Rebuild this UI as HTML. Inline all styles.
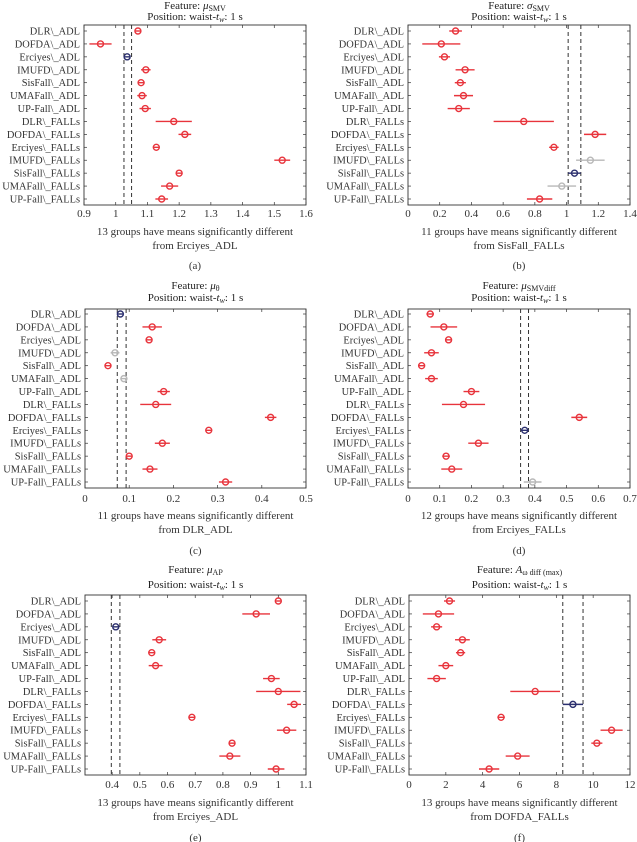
<!DOCTYPE html>
<html><head><meta charset="utf-8"><style>
html,body{margin:0;padding:0;background:#fff;}
svg{display:block;font-family:"Liberation Serif",serif;}
</style></head><body>
<svg id="fig" width="637" height="842" viewBox="0 0 637 842" xmlns="http://www.w3.org/2000/svg"></svg>
<script>
const groups = ["DLR\\_ADL","DOFDA\\_ADL","Erciyes\\_ADL","IMUFD\\_ADL","SisFall\\_ADL","UMAFall\\_ADL","UP-Fall\\_ADL","DLR\\_FALLs","DOFDA\\_FALLs","Erciyes\\_FALLs","IMUFD\\_FALLs","SisFall\\_FALLs","UMAFall\\_FALLs","UP-Fall\\_FALLs"];

const meansA = [1.07,0.952,1.036,1.095,1.08,1.083,1.093,1.183,1.218,1.128,1.525,1.2,1.17,1.145];
const halfA  = [0.008,0.035,0.01,0.015,0.008,0.015,0.018,0.057,0.02,0.008,0.025,0.008,0.027,0.02];
const typeA  = ["r","r","b","r","r","r","r","r","r","r","r","r","r","r"];
const ticksA = [0.9,1,1.1,1.2,1.3,1.4,1.5,1.6];
const refA = [1.026,1.05];

const meansB = [0.30,0.21,0.23,0.36,0.33,0.35,0.32,0.73,1.18,0.92,1.15,1.05,0.97,0.83];
const halfB  = [0.04,0.12,0.035,0.06,0.035,0.06,0.07,0.19,0.07,0.03,0.09,0.04,0.09,0.08];
const typeB  = ["r","r","r","r","r","r","r","r","r","r","g","b","g","r"];
const ticksB = [0,0.2,0.4,0.6,0.8,1,1.2,1.4];
const refB = [1.01,1.09];

const meansC = [0.08,0.152,0.145,0.068,0.052,0.088,0.178,0.16,0.42,0.28,0.175,0.1,0.147,0.318];
const halfC  = [0.007,0.022,0.007,0.01,0.006,0.006,0.014,0.035,0.013,0.006,0.017,0.006,0.017,0.015];
const typeC  = ["b","r","r","g","r","g","r","r","r","r","r","r","r","r"];
const ticksC = [0,0.1,0.2,0.3,0.4,0.5];
const refC = [0.073,0.093];

const meansD = [0.07,0.113,0.128,0.074,0.043,0.074,0.2,0.175,0.54,0.368,0.222,0.12,0.138,0.393];
const halfD  = [0.012,0.042,0.01,0.023,0.01,0.02,0.025,0.068,0.025,0.013,0.032,0.012,0.033,0.028];
const typeD  = ["r","r","r","r","r","r","r","r","r","b","r","r","r","g"];
const ticksD = [0,0.1,0.2,0.3,0.4,0.5,0.6,0.7];
const refD = [0.355,0.38];

const meansE = [1.0,0.92,0.413,0.57,0.543,0.557,0.975,1.0,1.057,0.688,1.03,0.833,0.825,0.992];
const halfE  = [0.01,0.05,0.01,0.025,0.01,0.025,0.03,0.08,0.025,0.01,0.035,0.01,0.038,0.03];
const typeE  = ["r","r","b","r","r","r","r","r","r","r","r","r","r","r"];
const ticksE = [0.4,0.5,0.6,0.7,0.8,0.9,1,1.1];
const refE = [0.397,0.428];

const meansF = [2.2,1.6,1.5,2.9,2.8,2.0,1.5,6.85,8.9,5.0,11.0,10.2,5.9,4.35];
const halfF  = [0.3,0.85,0.3,0.4,0.25,0.4,0.5,1.35,0.55,0.2,0.6,0.3,0.65,0.55];
const typeF  = ["r","r","r","r","r","r","r","r","b","r","r","r","r","r"];
const ticksF = [0,2,4,6,8,10,12];
const refF = [8.35,9.45];

const NS="http://www.w3.org/2000/svg";
const svg=document.getElementById('fig');
const COL={r:"#e8343c",b:"#2b2f6e",g:"#b8b8b8"};
const FS=11;
function mk(tag,attrs,parent){const e=document.createElementNS(NS,tag);for(const k in attrs)e.setAttribute(k,attrs[k]);(parent||svg).appendChild(e);return e;}

const panels=[
 {id:"a",x0:84,x1:306,y0:25,y1:205,r0:31,r1:199,min:0.9,max:1.6,m:meansA,h:halfA,t:typeA,ticks:ticksA,ref:refA,
  feat:["μ","SMV"],tY:[5,16],tl:213,xl:[231,245],cap:265,msg:["13 groups have means significantly different","from Erciyes_ADL"]},
 {id:"b",x0:408,x1:630,y0:25,y1:205,r0:31,r1:199,min:0,max:1.4,m:meansB,h:halfB,t:typeB,ticks:ticksB,ref:refB,
  feat:["σ","SMV"],tY:[5,16],tl:213,xl:[231,245],cap:265,msg:["11 groups have means significantly different","from SisFall_FALLs"]},
 {id:"c",x0:85,x1:306,y0:309,y1:488,r0:314,r1:482,min:0,max:0.5,m:meansC,h:halfC,t:typeC,ticks:ticksC,ref:refC,
  feat:["μ","θ"],tY:[285,297],tl:498,xl:[515,529],cap:550,msg:["11 groups have means significantly different","from DLR_ADL"]},
 {id:"d",x0:408,x1:630,y0:309,y1:488,r0:314,r1:482,min:0,max:0.7,m:meansD,h:halfD,t:typeD,ticks:ticksD,ref:refD,
  feat:["μ","SMVdiff"],tY:[285,297],tl:498,xl:[515,529],cap:550,msg:["12 groups have means significantly different","from Erciyes_FALLs"]},
 {id:"e",x0:85,x1:306,y0:595,y1:775,r0:601,r1:769,min:0.302,max:1.1,m:meansE,h:halfE,t:typeE,ticks:ticksE,ref:refE,
  feat:["μ","AP"],tY:[569,584],tl:784,xl:[802,816],cap:837,msg:["13 groups have means significantly different","from Erciyes_ADL"]},
 {id:"f",x0:409,x1:630,y0:595,y1:775,r0:601,r1:769,min:0,max:12,m:meansF,h:halfF,t:typeF,ticks:ticksF,ref:refF,
  feat:["A","ω diff (max)"],tY:[569,584],tl:784,xl:[802,816],cap:837,msg:["13 groups have means significantly different","from DOFDA_FALLs"]}
];

panels.forEach(p=>{
  const g=mk('g',{});
  
  
  const sx=v=>p.x0+(v-p.min)/(p.max-p.min)*(p.x1-p.x0);
  const sy=i=>p.r0+i*(p.r1-p.r0)/(groups.length-1);
  const cx=(p.x0+p.x1)/2;
  const t1=mk('text',{x:cx,y:p.tY[0]+4,'text-anchor':'middle','font-size':FS,fill:'#222'},g);
  
  
  t1.appendChild(document.createTextNode('Feature: '));
  const ts=mk('tspan',{'font-style':'italic'},t1);ts.textContent=p.feat[0];
  const ts2=mk('tspan',{'font-size':8,dy:2},t1);ts2.textContent=p.feat[1];
  const t2=mk('text',{x:cx,y:p.tY[1]+4,'text-anchor':'middle','font-size':FS,fill:'#222'},g);
  
  
  t2.appendChild(document.createTextNode('Position: waist-'));
  const ti=mk('tspan',{'font-style':'italic'},t2);ti.textContent='t';
  const tw=mk('tspan',{'font-size':8,dy:2,'font-style':'italic'},t2);tw.textContent='w';
  const tr=mk('tspan',{dy:-2},t2);tr.textContent=': 1 s';
  const box=mk('rect',{x:p.x0,y:p.y0,width:p.x1-p.x0,height:p.y1-p.y0,fill:'none',stroke:'#333','stroke-width':0.9},g);
  
  
  p.ticks.forEach(v=>{
    const x=sx(v);
    mk('line',{x1:x,x2:x,y1:p.y1,y2:p.y1-3,stroke:'#333','stroke-width':0.7},g);
    mk('line',{x1:x,x2:x,y1:p.y0,y2:p.y0+3,stroke:'#333','stroke-width':0.7},g);
    const tl=mk('text',{x:x,y:p.tl+4,'text-anchor':'middle','font-size':FS,fill:'#333'},g);
    
    
    tl.textContent=String(v);
  });
  p.ref.forEach(v=>{
    const l=mk('line',{x1:sx(v),x2:sx(v),y1:p.y0,y2:p.y1,stroke:'#333','stroke-width':1,'stroke-dasharray':'4,3'},g);
    
    
  });
  groups.forEach((name,i)=>{
    const y=sy(i);
    mk('line',{x1:p.x0,x2:p.x0+3,y1:y,y2:y,stroke:'#333','stroke-width':0.7},g);
    mk('line',{x1:p.x1,x2:p.x1-3,y1:y,y2:y,stroke:'#333','stroke-width':0.7},g);
    const lb=mk('text',{x:p.x0-4,y:y+3.5,'text-anchor':'end','font-size':10.4,fill:'#333'},g);
    
    
    lb.textContent=name;
    const c=COL[p.t[i]];
    const eb=mk('line',{x1:sx(p.m[i]-p.h[i]),x2:sx(p.m[i]+p.h[i]),y1:y,y2:y,stroke:c,'stroke-width':1.4},g);
    
    
    const pt=mk('circle',{cx:sx(p.m[i]),cy:y,r:3,fill:'none',stroke:c,'stroke-width':1.4},g);
    
    
  });
  p.msg.forEach((s,k)=>{
    const m=mk('text',{x:cx,y:p.xl[k]+4,'text-anchor':'middle','font-size':FS,fill:'#333'},g);
    
    
    m.textContent=s;
  });
  const cap=mk('text',{x:cx,y:p.cap+4,'text-anchor':'middle','font-size':FS,fill:'#333'},g);
  
  
  cap.textContent='('+p.id+')';
});
</script>
</body></html>
